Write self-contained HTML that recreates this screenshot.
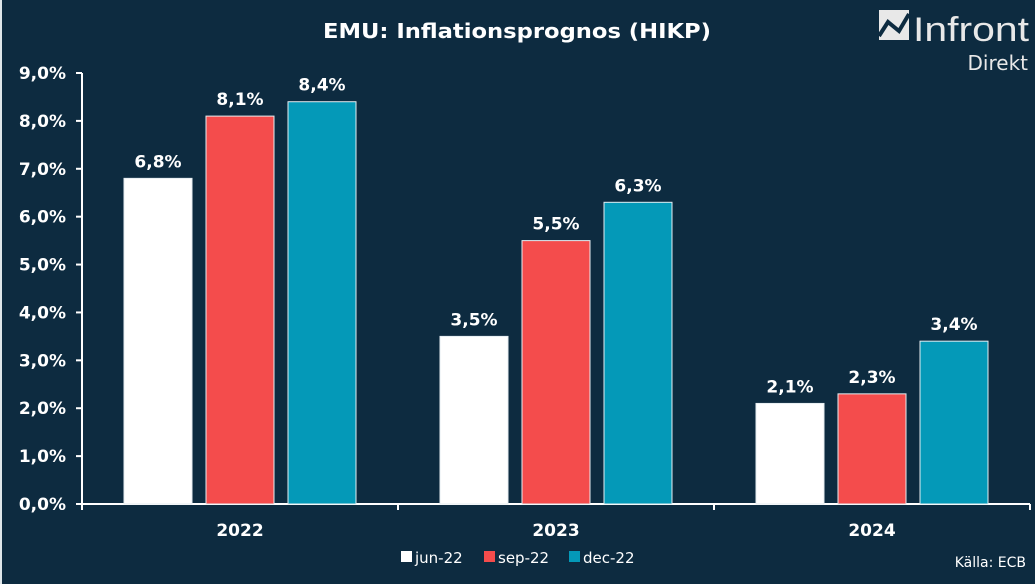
<!DOCTYPE html>
<html><head><meta charset="utf-8"><style>
html,body{margin:0;padding:0;background:#0d2b40;}
svg{display:block;font-family:"DejaVu Sans","Liberation Sans",sans-serif;}
</style></head><body>
<svg id="chart" width="1035" height="584" viewBox="0 0 1035 584">
<rect x="0" y="0" width="1035" height="584" fill="#0d2b40"/>
<rect x="0" y="0" width="2" height="584" fill="#dfe6ea"/>
<text x="517" y="38" text-anchor="middle" fill="#fff" font-size="20" font-weight="bold" textLength="388" lengthAdjust="spacingAndGlyphs">EMU: Inflationsprognos (HIKP)</text>
<g>
<rect x="879" y="10" width="30" height="30" fill="#e8e8e8"/>
<polyline points="879,36 888,22 899,31 909,14" fill="none" stroke="#0d2b40" stroke-width="4"/>
<text x="913" y="41" fill="#e8e8e8" font-size="34" font-family="Liberation Sans" textLength="116" lengthAdjust="spacingAndGlyphs">Infront</text>
<text x="1028" y="70" text-anchor="end" fill="#e8e8e8" font-size="20">Direkt</text>
</g>
<g id="axes"></g>
<g id="bars"></g>
<g>
<rect x="401" y="551" width="11" height="11" fill="#fff"/>
<text x="415" y="563" fill="#fff" font-size="15">jun-22</text>
<rect x="484" y="551" width="11" height="11" fill="#f44c4c"/>
<text x="498" y="563" fill="#fff" font-size="15">sep-22</text>
<rect x="569" y="551" width="11" height="11" fill="#0499b8"/>
<text x="583" y="563" fill="#fff" font-size="15">dec-22</text>
</g>
<text x="1026" y="567" text-anchor="end" fill="#fff" font-size="14">Källa:  ECB</text>
</svg>
<script>
const categories = ["2022","2023","2024"];
const seriesNames = ["jun-22","sep-22","dec-22"];
const junValues = [6.8,3.5,2.1];
const sepValues = [8.1,5.5,2.3];
const decValues = [8.4,6.3,3.4];
const yTicks = [0,1,2,3,4,5,6,7,8,9];
const colors = ["#ffffff","#f44c4c","#0499b8"];
const NS="http://www.w3.org/2000/svg";
const x0=82,x1=1030,y0=504,yTop=73,yMax=9;
const y=v=>y0-(v/yMax)*(y0-yTop);
const catW=(x1-x0)/categories.length;
const fmt=v=>v.toFixed(1).replace('.',',')+'%';
function mk(tag,attrs,parent){const e=document.createElementNS(NS,tag);for(const k in attrs)e.setAttribute(k,attrs[k]);parent.appendChild(e);return e;}
const ax=document.getElementById('axes'),bg=document.getElementById('bars');
let l=mk('line',{x1:x0,y1:yTop,x2:x0,y2:y0+1,stroke:'#fff','stroke-width':2},ax);


l=mk('line',{x1:x0-1,y1:y0,x2:x1,y2:y0,stroke:'#fff','stroke-width':2},ax);


yTicks.forEach(t=>{
 const tk=mk('line',{x1:x0-6,y1:y(t),x2:x0,y2:y(t),stroke:'#fff','stroke-width':2},ax);
 
 
 const tx=mk('text',{x:66,y:y(t)+6,'text-anchor':'end',fill:'#fff','font-size':17,'font-weight':'bold'},ax);
 tx.textContent=fmt(t);
 
 
});
for(let i=0;i<=categories.length;i++){
 const tk=mk('line',{x1:x0+i*catW,y1:y0,x2:x0+i*catW,y2:y0+6,stroke:'#fff','stroke-width':2},ax);
 
 
}
const series=[junValues,sepValues,decValues];
const bw=68,gap=14;
categories.forEach((c,i)=>{
 const cx=x0+catW*(i+0.5);
 const lb=mk('text',{x:cx,y:536,'text-anchor':'middle',fill:'#fff','font-size':17,'font-weight':'bold'},ax);
 lb.textContent=c;
 
 
 series.forEach((s,j)=>{
  const bx=cx+(j-1)*(bw+gap)-bw/2;
  const r=mk('rect',{x:bx,y:y(s[i]),width:bw,height:y0-y(s[i]),fill:colors[j],stroke:'#e6eef2','stroke-width':1},bg);
  
  
  const t=mk('text',{x:bx+bw/2,y:y(s[i])-11,'text-anchor':'middle',fill:'#fff','font-size':17,'font-weight':'bold'},bg);
  t.textContent=fmt(s[i]);
  
  
 });
});
</script>
</body></html>
